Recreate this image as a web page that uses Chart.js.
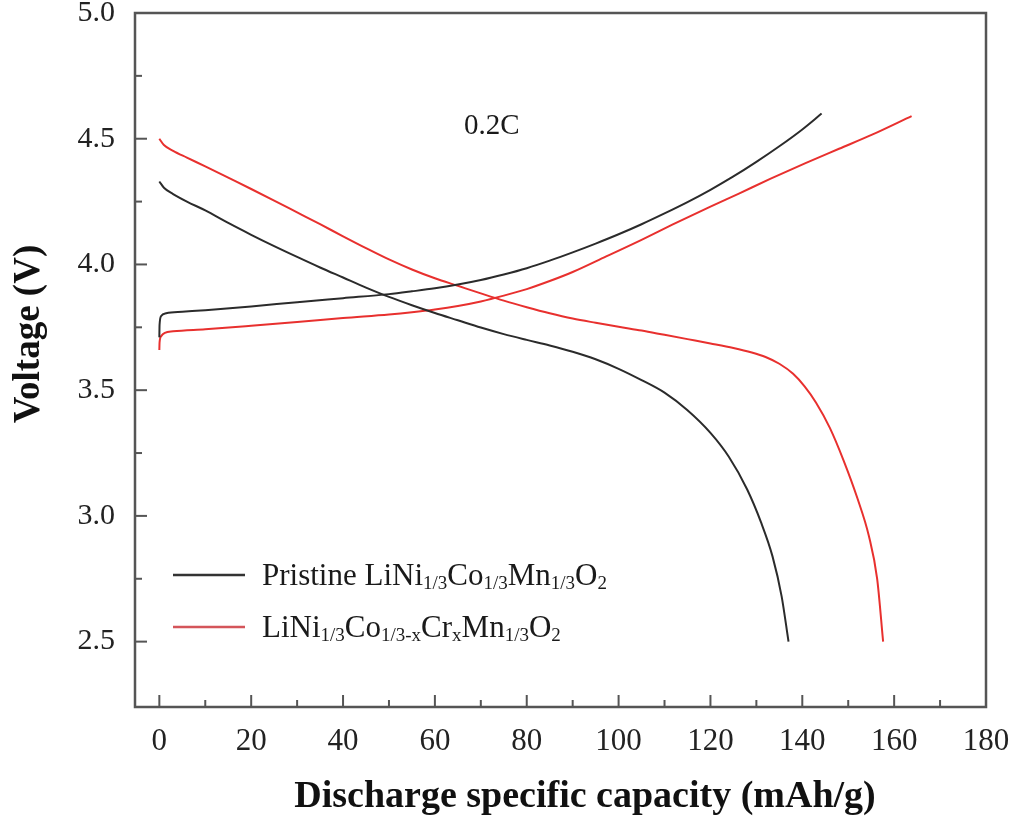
<!DOCTYPE html>
<html>
<head>
<meta charset="utf-8">
<script src="https://cdn.jsdelivr.net/npm/chart.js@4.4.1/dist/chart.umd.min.js"></script>
<style>
  html, body { margin: 0; padding: 0; background: #fff; }
  #chart { display: block; }
</style>
</head>
<body>
<canvas id="chart" width="1020" height="829"></canvas>
<script>
/* ===== DATA ===== */
// Pristine LiNi1/3Co1/3Mn1/3O2 (black)
const pristineDisCap = [0, 1, 3, 6, 10, 15, 20, 25, 30, 35, 40, 45, 50, 55, 60, 65, 70, 75, 80, 85, 90, 95, 100, 105, 110, 115, 120, 124, 128, 131, 133.5, 135.5, 137];
const pristineDisV   = [4.33, 4.305, 4.28, 4.25, 4.215, 4.165, 4.118, 4.073, 4.03, 3.988, 3.948, 3.908, 3.871, 3.838, 3.807, 3.778, 3.749, 3.723, 3.70, 3.678, 3.653, 3.623, 3.585, 3.54, 3.49, 3.42, 3.33, 3.235, 3.105, 2.975, 2.84, 2.68, 2.50];
const pristineChgCap = [0, 0.05, 0.4, 1.5, 5, 10, 20, 30, 40, 50, 55, 60, 65, 70, 75, 80, 85, 90, 95, 100, 105, 110, 115, 120, 125, 130, 135, 140, 144.2];
const pristineChgV   = [3.71, 3.76, 3.795, 3.806, 3.812, 3.818, 3.833, 3.85, 3.866, 3.882, 3.893, 3.905, 3.92, 3.938, 3.96, 3.985, 4.015, 4.048, 4.083, 4.12, 4.16, 4.203, 4.248, 4.297, 4.35, 4.408, 4.47, 4.537, 4.60];

// LiNi1/3Co1/3-xCrxMn1/3O2 (red)
const crDisCap = [0, 1, 3, 6, 10, 15, 20, 25, 30, 35, 40, 45, 50, 55, 60, 65, 70, 75, 80, 85, 90, 95, 100, 105, 110, 115, 120, 125, 129, 132, 135, 138, 140.5, 143, 146, 149, 152, 154.5, 156.3, 157.6];
const crDisV   = [4.50, 4.475, 4.452, 4.425, 4.39, 4.345, 4.30, 4.254, 4.207, 4.16, 4.112, 4.065, 4.02, 3.98, 3.945, 3.915, 3.885, 3.856, 3.83, 3.806, 3.785, 3.768, 3.752, 3.737, 3.72, 3.703, 3.686, 3.668, 3.65, 3.632, 3.605, 3.565, 3.515, 3.45, 3.35, 3.22, 3.07, 2.92, 2.75, 2.50];
const crChgCap = [0, 0.05, 0.4, 1.2, 3, 10, 20, 30, 40, 50, 55, 60, 65, 70, 75, 80, 85, 90, 97.3, 105, 111.7, 120, 126.2, 133, 140.7, 148, 155.2, 163.8];
const crChgV   = [3.66, 3.69, 3.715, 3.728, 3.734, 3.742, 3.756, 3.771, 3.787, 3.801, 3.81, 3.821, 3.835, 3.853, 3.876, 3.902, 3.934, 3.97, 4.032, 4.098, 4.158, 4.23, 4.282, 4.34, 4.403, 4.46, 4.516, 4.59];

const seriesLabels = ['Pristine LiNi_{1/3}Co_{1/3}Mn_{1/3}O_{2}', 'LiNi_{1/3}Co_{1/3-x}Cr_{x}Mn_{1/3}O_{2}'];
const seriesColors = ['#2b2b2b', '#e8302e'];
const legendColors = ['#333333', '#d4555a'];

const xTickLabels = [0, 20, 40, 60, 80, 100, 120, 140, 160, 180];
const xMinorTicks = [10, 30, 50, 70, 90, 110, 130, 150, 170];
const yTickLabels = [2.5, 3.0, 3.5, 4.0, 4.5, 5.0];
const yMinorTicks = [2.75, 3.25, 3.75, 4.25, 4.75];

const rateLabel = '0.2C';
const xTitle = 'Discharge specific capacity (mAh/g)';
const yTitle = 'Voltage (V)';

/* ===== HELPERS ===== */
const FONT = "'Liberation Serif', 'Times New Roman', serif";
const pts = (xs, ys) => xs.map((x, i) => ({ x, y: ys[i] }));

// draws text with _{...} parts as subscripts
function drawRich(ctx, str, x, y, size) {
  str.split(/(_\{[^}]*\})/).forEach(p => {
    if (!p) return;
    const sub = p.startsWith('_{');
    const t = sub ? p.slice(2, -1) : p;
    ctx.font = (sub ? Math.round(size * 0.62) : size) + 'px ' + FONT;
    ctx.fillText(t, x, sub ? y + size * 0.14 : y);
    x += ctx.measureText(t).width;
  });
}

/* ===== FRAME / TICKS / LEGEND PLUGIN ===== */
const framePlugin = {
  id: 'frame',
  afterDraw(chart) {
    const { ctx, chartArea: a, scales: { x, y } } = chart;
    ctx.save();
    ctx.strokeStyle = '#555';
    ctx.lineWidth = 2.5;
    ctx.strokeRect(a.left, a.top, a.right - a.left, a.bottom - a.top);

    ctx.lineWidth = 2;
    const seg = (x1, y1, x2, y2) => { ctx.beginPath(); ctx.moveTo(x1, y1); ctx.lineTo(x2, y2); ctx.stroke(); };
    xTickLabels.forEach(v => { const p = x.getPixelForValue(v); seg(p, a.bottom, p, a.bottom - 12); });
    xMinorTicks.forEach(v => { const p = x.getPixelForValue(v); seg(p, a.bottom, p, a.bottom - 7); });
    yTickLabels.forEach(v => { const p = y.getPixelForValue(v); seg(a.left, p, a.left + 12, p); });
    yMinorTicks.forEach(v => { const p = y.getPixelForValue(v); seg(a.left, p, a.left + 7, p); });

    // legend
    ctx.lineWidth = 2.5;
    ctx.textBaseline = 'alphabetic';
    ctx.textAlign = 'left';
    ctx.fillStyle = '#1a1a1a';
    seriesLabels.forEach((lab, i) => {
      const ly = a.bottom - 132 + i * 52;
      ctx.strokeStyle = legendColors[i];
      seg(a.left + 38, ly, a.left + 110, ly);
      drawRich(ctx, lab, a.left + 127, ly + 10, 31);
    });

    // rate annotation
    ctx.font = '29px ' + FONT;
    ctx.textAlign = 'center';
    ctx.fillText(rateLabel, x.getPixelForValue(72.4), y.getPixelForValue(4.52));

    // axis titles
    ctx.fillStyle = '#111';
    ctx.font = 'bold 38px ' + FONT;
    ctx.fillText(xTitle, 585, 807);
    ctx.save();
    ctx.translate(39, 334);
    ctx.rotate(-Math.PI / 2);
    ctx.font = 'bold 37px ' + FONT;
    ctx.fillText(yTitle, 0, 0);
    ctx.restore();
    ctx.restore();
  }
};

/* ===== CHART ===== */
const line = (data, color) => ({
  data, borderColor: color, borderWidth: 2, pointRadius: 0, showLine: true,
  cubicInterpolationMode: 'monotone', fill: false
});

new Chart(document.getElementById('chart'), {
  type: 'scatter',
  data: {
    datasets: [
      line(pts(pristineDisCap, pristineDisV), seriesColors[0]),
      line(pts(pristineChgCap, pristineChgV), seriesColors[0]),
      line(pts(crDisCap, crDisV), seriesColors[1]),
      line(pts(crChgCap, crChgV), seriesColors[1]),
    ]
  },
  options: {
    responsive: false,
    animation: false,
    layout: { padding: { top: 13, right: 34, left: 0, bottom: 0 } },
    plugins: { legend: { display: false }, tooltip: { enabled: false } },
    scales: {
      x: {
        type: 'linear', min: -5.3, max: 180,
        afterBuildTicks: s => { s.ticks = xTickLabels.map(v => ({ value: v })); },
        afterFit: s => { s.height = 122; s.paddingLeft = 0; s.paddingRight = 0; },
        ticks: { font: { family: FONT, size: 31 }, color: '#222', padding: 16, maxRotation: 0, autoSkip: false },
        grid: { drawOnChartArea: false, drawTicks: false },
        border: { display: false }
      },
      y: {
        type: 'linear', min: 2.24, max: 5.0,
        afterBuildTicks: s => { s.ticks = yTickLabels.map(v => ({ value: v })); },
        afterFit: s => { s.width = 135; s.paddingTop = 0; s.paddingBottom = 0; },
        ticks: { font: { family: FONT, size: 30 }, color: '#222', padding: 20, callback: v => v.toFixed(1) },
        grid: { drawOnChartArea: false, drawTicks: false },
        border: { display: false }
      }
    }
  },
  plugins: [framePlugin]
});
</script>
</body>
</html>
